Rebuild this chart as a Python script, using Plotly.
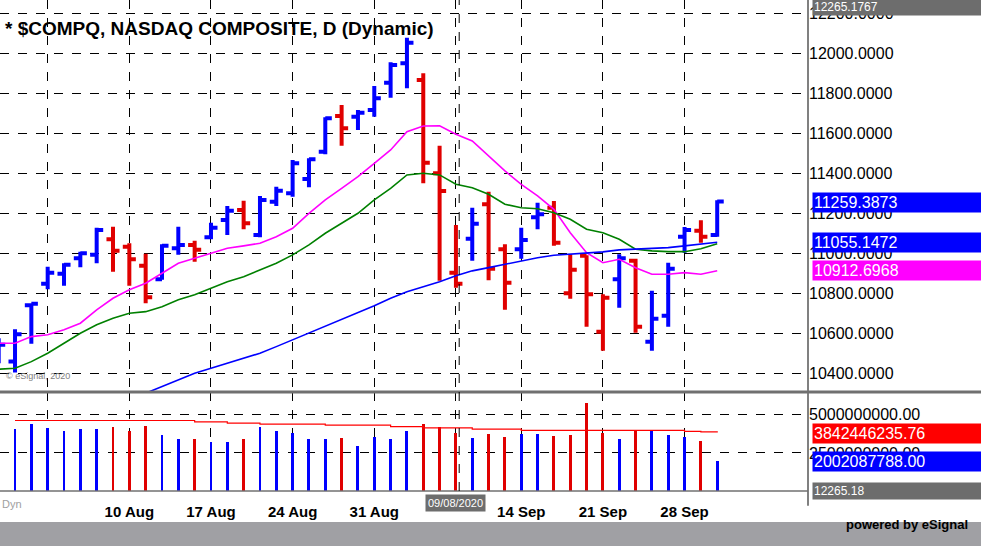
import plotly.graph_objects as go

# daily bars, Jul 29 .. Sep 30 2020 (index -1 .. 43)
idx = list(range(-1, 44))
opens = [10500, 10458, 10740, 10847, 10897, 10975, 10992, 11070, 11033, 10938, 10870, 11025, 11042,
         11080, 11167, 11217, 11092, 11258, 11300, 11372, 11508, 11687, 11683, 11717, 11853, 11950,
         11867, 11400, 10903, 11073, 11245, 11020, 11020, 11180, 11228, 10800, 10987, 10608, 10870,
         10962, 10557, 10687, 11083, 11113, 11092]
highs = [10575, 10620, 10750, 10933, 10950, 11008, 11128, 11133, 11050, 10997, 11045, 11133, 11063,
         11153, 11237, 11263, 11287, 11333, 11467, 11475, 11680, 11742, 11717, 11837, 11955, 12078,
         11900, 11538, 11142, 11228, 11308, 11045, 11128, 11253, 11262, 10995, 10990, 10795, 10995,
         10973, 10812, 10953, 11132, 11165, 11265]
lows = [10450, 10403, 10547, 10820, 10838, 10930, 10950, 10908, 10838, 10750, 10867, 10992, 10958,
        11070, 11092, 11120, 11080, 11237, 11283, 11330, 11495, 11538, 11617, 11683, 11778, 11825,
        11350, 10862, 10828, 10962, 10865, 10717, 10973, 11120, 11037, 10773, 10633, 10512, 10728,
        10603, 10512, 10633, 11003, 11053, 11083]
closes = [10542, 10595, 10748, 10903, 10942, 11000, 11117, 11013, 10970, 10780, 11037, 11042, 11017,
          11128, 11213, 11150, 11267, 11313, 11450, 11470, 11675, 11625, 11703, 11775, 11942, 12053,
          11453, 11312, 10848, 11148, 10923, 10853, 11067, 11195, 11053, 10917, 10795, 10778, 10975,
          10633, 10673, 10923, 11117, 11083, 11259.3873]

ma_fast = [10550, 10550, 10583, 10592, 10617, 10650, 10717, 10775, 10817, 10850, 10900, 10950, 10975,
           11000, 11025, 11037, 11050, 11083, 11125, 11200, 11267, 11325, 11383, 11450, 11517, 11608,
           11637, 11638, 11595, 11562, 11487, 11412, 11345, 11287, 11220, 11103, 11003, 10953, 10970,
           10928, 10895, 10895, 10903, 10895, 10912.6968]
ma_mid = [10420, 10425, 10458, 10500, 10550, 10600, 10642, 10675, 10700, 10708, 10733, 10767, 10792,
          10825, 10858, 10883, 10917, 10950, 10992, 11042, 11100, 11150, 11200, 11267, 11325, 11392,
          11400, 11392, 11345, 11328, 11295, 11245, 11228, 11223, 11203, 11170, 11120, 11103, 11070,
          11020, 11012, 11008, 11008, 11023, 11048]
ma_slow = [None] * 9 + [10300, 10333, 10367, 10400, 10425, 10450, 10475, 10500, 10533, 10567, 10600,
                        10633, 10667, 10700, 10737, 10775, 10808, 10833, 10858, 10887, 10912, 10928,
                        10945, 10962, 10978, 10990, 10995, 11000, 11007, 11017, 11020, 11023, 11028,
                        11037, 11045, 11055.1472]

vol_idx = list(range(0, 44))
volume = [4.06e9, 4.41e9, 4.16e9, 3.94e9, 4.06e9, 4.06e9, 4.19e9, 3.96e9, 4.30e9, 3.70e9, 3.44e9,
          3.44e9, 3.19e9, 3.19e9, 3.44e9, 4.19e9, 3.92e9, 3.83e9, 3.44e9, 3.44e9, 3.50e9, 2.97e9,
          3.57e9, 3.44e9, 3.96e9, 4.43e9, 4.23e9, 3.83e9, 3.50e9, 3.77e9, 3.57e9, 3.77e9, 3.77e9,
          3.64e9, 3.70e9, 5.75e9, 3.83e9, 3.44e9, 4.03e9, 4.03e9, 3.70e9, 3.57e9, 3.30e9, 2.002087788e9]
vol_avg = [4.63e9] * 11 + [4.54e9, 4.54e9, 4.46e9, 4.46e9, 4.39e9, 4.39e9, 4.39e9, 4.39e9, 4.32e9,
                           4.32e9, 4.32e9, 4.32e9, 4.23e9, 4.23e9, 4.14e9, 4.14e9, 4.14e9, 4.06e9,
                           4.06e9, 4.06e9, 3.98e9, 3.98e9, 3.98e9, 3.98e9, 3.98e9, 3.98e9, 3.98e9,
                           3.98e9, 3.98e9, 3.98e9, 3.92e9, 3.88e9, 3.842446235e9]

tick_idx = [2, 7, 12, 17, 22, 27, 31, 36, 41]
tick_text = ["", "10 Aug", "17 Aug", "24 Aug", "31 Aug", "", "14 Sep", "21 Sep", "28 Sep"]

BLUE = "#0000ff"
RED = "#e00000"
up = [c > p for p, c in zip([closes[0] - 1] + closes[:-1], closes)]
colors = [BLUE if u else RED for u in up]

fig = go.Figure()
for col in (BLUE, RED):
    sel = [i for i, c in enumerate(colors) if c == col]
    fig.add_trace(go.Ohlc(
        x=[idx[i] for i in sel], open=[opens[i] for i in sel], high=[highs[i] for i in sel],
        low=[lows[i] for i in sel], close=[closes[i] for i in sel], tickwidth=0.4,
        increasing=dict(line=dict(color=col, width=4)),
        decreasing=dict(line=dict(color=col, width=4)),
        hoverinfo="skip", showlegend=False, yaxis="y"))

for vals, col in ((ma_fast, "#ff00ff"), (ma_mid, "#008000"), (ma_slow, BLUE)):
    fig.add_trace(go.Scatter(x=idx, y=vals, mode="lines", line=dict(color=col, width=1.6),
                             showlegend=False, hoverinfo="skip", yaxis="y"))

vol_colors = [colors[i + 1] for i in vol_idx]
fig.add_trace(go.Bar(x=vol_idx, y=volume, marker=dict(color=vol_colors, line_width=0), width=0.18,
                     showlegend=False, hoverinfo="skip", yaxis="y2"))
fig.add_trace(go.Scatter(x=vol_idx, y=vol_avg, mode="lines", line=dict(color="#ff0000", width=1.2),
                         line_shape="hv", showlegend=False, hoverinfo="skip", yaxis="y2"))

font = "Liberation Sans, Arial"
split = 99 / 491
grid = dict(showgrid=True, gridcolor="black", griddash="dash", gridwidth=1)

fig.update_layout(
    width=981, height=546, margin=dict(l=0, r=173, t=0, b=55),
    paper_bgcolor="white", plot_bgcolor="white",
    font=dict(family=font, color="black"),
    xaxis=dict(range=[-0.92, 48.56], tickvals=tick_idx, ticktext=["<b>%s</b>" % t for t in tick_text],
               ticks="", tickfont=dict(size=15, family=font), zeroline=False,
               rangeslider=dict(visible=False), showline=False, anchor="y2", ticklabelstandoff=10, **grid),
    yaxis=dict(domain=[split, 1], range=[10306, 12267], side="right", tickformat=".4f",
               tickvals=list(range(10400, 12201, 200)), tickfont=dict(size=16),
               zeroline=False, showline=False, anchor="x", **grid),
    yaxis2=dict(domain=[0, split], range=[0, 6.5e9], side="right", tickvals=[0, 2.5e9, 5e9],
                ticktext=["", "2500000000.00", "5000000000.00"], tickfont=dict(size=16),
                zeroline=False, showline=False, anchor="x", **grid),
    bargap=0,
)

shapes = [
    dict(type="line", xref="paper", yref="paper", x0=1, x1=1, y0=-0.03, y1=1,
         line=dict(color="#808080", width=2)),
    dict(type="line", xref="paper", yref="paper", x0=0, x1=1.22, y0=split, y1=split,
         line=dict(color="#707070", width=3)),
    dict(type="line", xref="paper", yref="paper", x0=0, x1=1, y0=0, y1=0,
         line=dict(color="#707070", width=1.5)),
    dict(type="line", xref="x", yref="paper", x0=27.2, x1=27.2, y0=0, y1=1,
         line=dict(color="black", width=1, dash="dash")),
    dict(type="rect", xref="paper", yref="paper", x0=-0.01, x1=1.22, y0=-31 / 491, y1=-56 / 491,
         fillcolor="#a0a0a4", line_width=0, layer="above"),
]
fig.update_layout(shapes=shapes)

ann = [
    dict(x=0.004, y=1 - 16 / 491, xref="paper", yref="paper", xanchor="left",
         text="<b>* $COMPQ, NASDAQ COMPOSITE, D (Dynamic)</b>", font=dict(size=19), showarrow=False),
    dict(x=0.005, y=(491 - 383) / 491, xref="paper", yref="paper", xanchor="left",
         text="© eSignal, 2020", font=dict(size=9, color="#808080"), showarrow=False),
    dict(x=27, y=-21 / 491, xref="x", yref="paper", text="09/08/2020", bgcolor="#6d6d6d",
         font=dict(size=11, color="white"), showarrow=False, borderpad=2),
    dict(x=0.0, y=-21 / 491, xref="paper", yref="paper", xanchor="left", text="Dyn",
         font=dict(size=11, color="#a0a0a0"), showarrow=False),
    dict(x=1.2, y=-43 / 491, xref="paper", yref="paper", xanchor="right",
         text="<b>powered by eSignal</b>", font=dict(size=13), showarrow=False),
]
tags = [
    ("12265.1767", 1 - 7 / 491, "#6d6d6d", 12),
    ("11259.3873", 1 - 202 / 491, BLUE, 16),
    ("11055.1472", 1 - 242 / 491, BLUE, 16),
    ("10912.6968", 1 - 270 / 491, "#ff00ff", 16),
    ("3842446235.76", (491 - 433) / 491, "#ff0000", 16),
    ("2002087788.00", (491 - 461) / 491, BLUE, 16),
    ("12265.18", 0, "#6d6d6d", 12),
]
for txt, yy, bg, sz in tags:
    ann.append(dict(x=1.005, y=yy, xref="paper", yref="paper", xanchor="left", yanchor="middle",
                    text=txt, bgcolor=bg, font=dict(size=sz, color="white"), showarrow=False,
                    width=166, align="left", borderpad=1))
fig.update_layout(annotations=ann)

fig.write_html("out.html", config={"displayModeBar": False},
               post_script="document.body.style.margin='0';")
